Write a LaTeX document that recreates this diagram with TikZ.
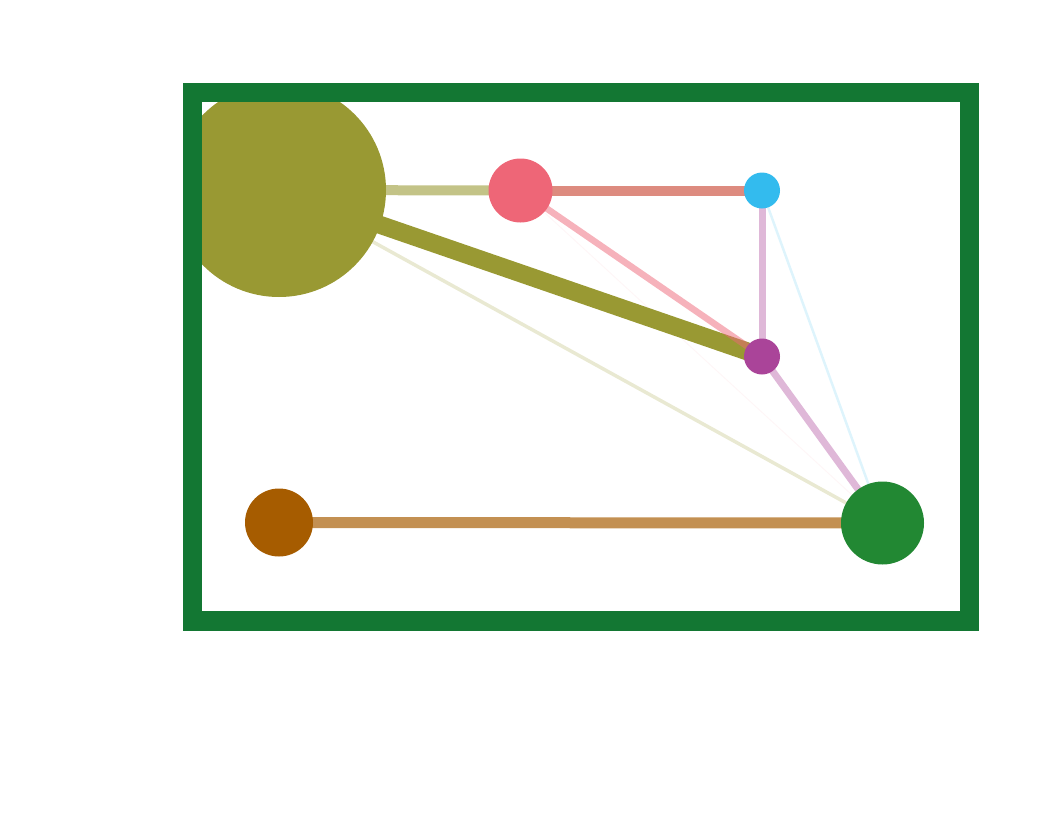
\documentclass[tikz,border=0pt]{standalone}
\usetikzlibrary{backgrounds}
\definecolor{cOlive}{HTML}{999933}
\definecolor{cPink}{HTML}{EE6677}
\definecolor{cBlue}{HTML}{33BBEE}
\definecolor{cPurple}{HTML}{AA4499}
\definecolor{cBrown}{HTML}{A65C00}
\definecolor{cGreen}{HTML}{228833}
\definecolor{cFrame}{HTML}{137733}
\definecolor{cPB}{RGB}{221,139,127}
\tikzset{
  vtx/.style={circle, fill=#1, draw=none, inner sep=0pt},
  edge/.style={line width=#1, line cap=butt},
}
\begin{document}
\begin{tikzpicture}[x=1pt,y=-1pt]
\useasboundingbox (0,0) rectangle (1062,814);
\begin{scope}
\clip (192.7,92.7) rectangle (969.3,621.2);
\node[vtx=cOlive, minimum size=214pt] (olive) at (279,190) {};
\node[vtx=cPink, minimum size=64pt] (pink) at (520.5,190.5) {};
\node[vtx=cBlue, minimum size=36pt] (blue) at (762,190.5) {};
\node[vtx=cPurple, minimum size=36pt] (purple) at (762,356.5) {};
\node[vtx=cBrown, minimum size=68pt] (brown) at (279,522.5) {};
\node[vtx=cGreen, minimum size=83pt] (green) at (882.5,523) {};
\end{scope}
\begin{scope}[on background layer]
\draw[edge=3.5pt, cOlive, opacity=0.22] (olive.center) -- (green.center);
\draw[edge=1pt, cPink, opacity=0.06] (pink.center) -- (green.center);
\draw[edge=2.5pt, cBlue, opacity=0.16] (blue.center) -- (green.center);
\draw[edge=10pt, cOlive, opacity=0.59] (olive.center) -- (pink.center);
\draw[edge=10pt, cPB] (pink.center) -- (blue.center);
\draw[edge=18pt, cOlive] (olive.center) -- (purple.center);
\draw[edge=6.5pt, cPink, opacity=0.5] (pink.center) -- (purple.center);
\draw[edge=7pt, cPurple, opacity=0.38] (blue.center) -- (purple.center);
\draw[edge=7pt, cPurple, opacity=0.38] (purple.center) -- (green.center);
\draw[edge=11pt, cBrown, opacity=0.68] (brown.center) -- (green.center);
\end{scope}
\draw[cFrame, line width=19.5pt] (192.7,92.7) rectangle (969.3,621.2);
\end{tikzpicture}
\end{document}
